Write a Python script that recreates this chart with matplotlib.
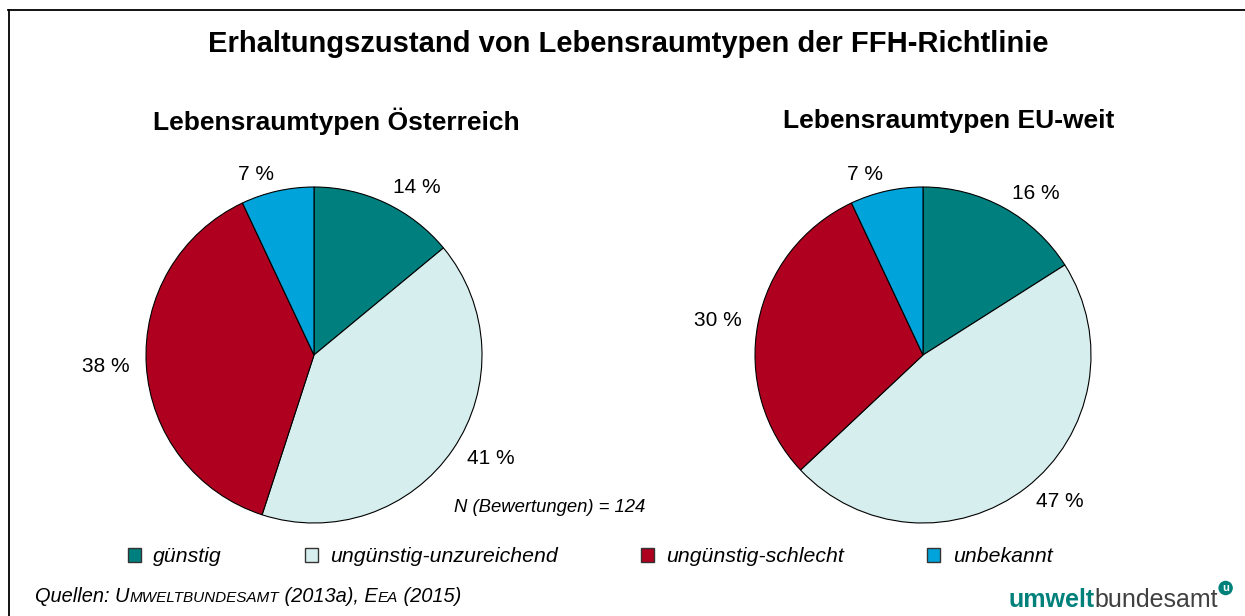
import matplotlib
matplotlib.use('Agg')
import matplotlib.pyplot as plt
from matplotlib.patches import Patch
from matplotlib.lines import Line2D

plt.rcParams['font.family'] = ['Liberation Sans', 'DejaVu Sans']

# Daten
kategorien = ['günstig', 'ungünstig-unzureichend', 'ungünstig-schlecht', 'unbekannt']
farben = ['#007F7F', '#D6EFEE', '#B00020', '#00A3DA']
werte_at = [14, 41, 38, 7]
werte_eu = [16, 47, 30, 7]
titel = 'Erhaltungszustand von Lebensraumtypen der FFH-Richtlinie'
titel_at = 'Lebensraumtypen Österreich'
titel_eu = 'Lebensraumtypen EU-weit'
n_text = 'N (Bewertungen) = 124'

W, H = 1245, 616
fig = plt.figure(figsize=(W / 100, H / 100), dpi=100)


def fx(x):
    return x / W


def fy(y):
    return 1 - y / H


# Rahmen oben und links
fig.add_artist(Line2D([fx(8), 1], [fy(10), fy(10)], color='black', lw=1.3))
fig.add_artist(Line2D([fx(9), fx(9)], [fy(10), 0], color='black', lw=1.3))

fig.text(fx(628), fy(44), titel, ha='center', va='center', fontsize=21, fontweight='bold')


def torte(cx, cy, r, werte):
    ax = fig.add_axes([fx(cx - r), fy(cy + r), 2 * r / W, 2 * r / H])
    ax.pie(werte, colors=farben, startangle=90, counterclock=False,
           labels=[f'{v} %' for v in werte], labeldistance=1.1,
           wedgeprops=dict(edgecolor='black', linewidth=0.8),
           textprops=dict(fontsize=15))
    ax.set_xlim(-1, 1)
    ax.set_ylim(-1, 1)
    ax.set_aspect('auto')
    ax.axis('off')
    return ax


torte(314, 355, 168, werte_at)
torte(923, 355, 168, werte_eu)

fig.text(fx(336), fy(121), titel_at, ha='center', va='center', fontsize=19, fontweight='bold')
fig.text(fx(949), fy(121), titel_eu, ha='center', va='center', fontsize=19, fontweight='bold')
fig.text(fx(550), fy(507), n_text, ha='center', va='center', fontsize=13.3, style='italic')

handles = [Patch(facecolor=c, edgecolor='#333333', label=k) for c, k in zip(farben, kategorien)]
fig.legend(handles=handles, loc='center', bbox_to_anchor=(fx(590), fy(557)), ncol=4,
           frameon=False, prop=dict(size=15.3, style='italic'), handlelength=0.6,
           handleheight=0.6, handletextpad=0.6, columnspacing=3.9)

# Quellenangabe mit Kapitälchen
r = fig.canvas.get_renderer()
teile = [('Quellen: U', 14.4), ('MWELTBUNDESAMT', 11), (' (2013a), E', 14.4), ('EA', 11), (' (2015)', 14.4)]
x = 35
for s, size in teile:
    t = fig.text(fx(x), fy(602), s, ha='left', va='baseline', fontsize=size, style='italic')
    x += t.get_window_extent(renderer=r).width

# Logo
t1 = fig.text(fx(1008), fy(607), 'umwelt', ha='left', va='baseline', fontsize=18,
              fontweight='bold', color='#00807A')
x = 1008 + t1.get_window_extent(renderer=r).width
t2 = fig.text(fx(x), fy(607), 'bundesamt', ha='left', va='baseline', fontsize=18, color='#404040')
x += t2.get_window_extent(renderer=r).width
fig.text(fx(x + 8), fy(588), 'u', ha='center', va='center', fontsize=8, fontweight='bold',
         color='white', bbox=dict(boxstyle='circle,pad=0.2', fc='#00807A', ec='none'))

fig.savefig('out.png', dpi=100, facecolor='white')
